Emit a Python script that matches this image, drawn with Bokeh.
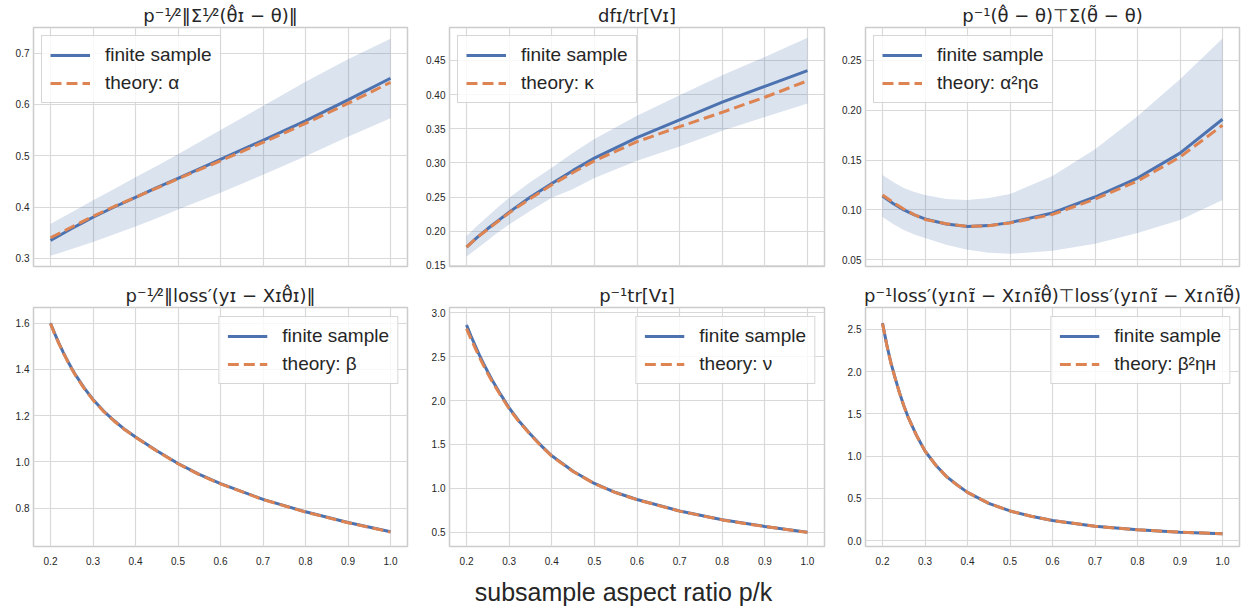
from bokeh.plotting import figure
from bokeh.layouts import column, row
from bokeh.models import Range1d, FixedTicker, PrintfTickFormatter, Legend, LegendItem, Label
from bokeh.embed import file_html
from bokeh.resources import INLINE

# ---------------- data ----------------
x_top = [0.2, 0.225, 0.25, 0.275, 0.3, 0.35, 0.4, 0.45, 0.5, 0.6, 0.7, 0.8, 0.9, 1.0]
x_bottom = [0.2, 0.21, 0.22, 0.23, 0.24, 0.25, 0.26, 0.28, 0.30, 0.325, 0.35, 0.375,
            0.40, 0.45, 0.50, 0.55, 0.60, 0.70, 0.80, 0.90, 1.00]

# panel 1
alpha_finite = [0.335, 0.3465, 0.358, 0.369, 0.380, 0.400, 0.419, 0.438, 0.456, 0.493, 0.530, 0.568, 0.609, 0.651]
alpha_theory = [0.340, 0.3505, 0.361, 0.3715, 0.382, 0.401, 0.419, 0.437, 0.455, 0.490, 0.526, 0.563, 0.602, 0.643]
alpha_hi = [0.367, 0.3785, 0.390, 0.4015, 0.413, 0.435, 0.458, 0.480, 0.503, 0.550, 0.597, 0.644, 0.688, 0.728]
alpha_lo = [0.305, 0.3115, 0.318, 0.325, 0.332, 0.347, 0.362, 0.378, 0.395, 0.428, 0.463, 0.499, 0.537, 0.573]

# panel 2
kappa_finite = [0.177, 0.191, 0.204, 0.216, 0.228, 0.250, 0.270, 0.289, 0.307, 0.337, 0.363, 0.389, 0.412, 0.435]
kappa_theory = [0.177, 0.191, 0.203, 0.215, 0.227, 0.248, 0.268, 0.286, 0.303, 0.331, 0.353, 0.374, 0.396, 0.420]
kappa_hi = [0.193, 0.208, 0.222, 0.236, 0.249, 0.272, 0.293, 0.315, 0.335, 0.369, 0.399, 0.428, 0.455, 0.483]
kappa_lo = [0.163, 0.175, 0.187, 0.199, 0.210, 0.230, 0.249, 0.262, 0.278, 0.303, 0.324, 0.347, 0.367, 0.387]

# panel 3
etag_finite = [0.114, 0.1065, 0.100, 0.095, 0.091, 0.086, 0.0835, 0.0843, 0.0873, 0.0970, 0.113, 0.132, 0.157, 0.191]
etag_theory = [0.115, 0.1075, 0.101, 0.0952, 0.0905, 0.0862, 0.0835, 0.0842, 0.0870, 0.0955, 0.111, 0.129, 0.153, 0.185]
etag_hi = [0.135, 0.128, 0.122, 0.118, 0.115, 0.111, 0.110, 0.112, 0.116, 0.134, 0.161, 0.194, 0.231, 0.272]
etag_lo = [0.093, 0.086, 0.080, 0.0755, 0.072, 0.065, 0.060, 0.057, 0.056, 0.059, 0.066, 0.077, 0.090, 0.110]

# panel 4
beta_finite = [1.600, 1.555, 1.513, 1.474, 1.438, 1.404, 1.373, 1.318, 1.270, 1.220, 1.178,
               1.140, 1.108, 1.048, 0.993, 0.946, 0.906, 0.838, 0.784, 0.738, 0.698]
beta_theory = [1.598, 1.553, 1.511, 1.472, 1.436, 1.402, 1.371, 1.316, 1.268, 1.218, 1.176,
               1.139, 1.107, 1.047, 0.992, 0.945, 0.905, 0.837, 0.783, 0.737, 0.697]
beta_hi = [1.612, 1.566, 1.523, 1.484, 1.447, 1.413, 1.381, 1.325, 1.277, 1.226, 1.184,
           1.146, 1.113, 1.053, 0.998, 0.951, 0.911, 0.843, 0.789, 0.743, 0.703]
beta_lo = [1.588, 1.544, 1.503, 1.464, 1.429, 1.395, 1.365, 1.311, 1.263, 1.214, 1.172,
           1.134, 1.103, 1.043, 0.988, 0.941, 0.901, 0.833, 0.779, 0.733, 0.693]

# panel 5
nu_finite = [2.860, 2.740, 2.630, 2.520, 2.420, 2.325, 2.235, 2.070, 1.915, 1.755, 1.615,
             1.487, 1.370, 1.195, 1.055, 0.952, 0.872, 0.742, 0.642, 0.566, 0.500]
nu_theory = [2.820, 2.705, 2.600, 2.495, 2.398, 2.305, 2.218, 2.057, 1.905, 1.748, 1.609,
             1.482, 1.366, 1.192, 1.052, 0.950, 0.870, 0.740, 0.640, 0.564, 0.498]
nu_hi = [2.900, 2.775, 2.662, 2.548, 2.446, 2.349, 2.258, 2.090, 1.932, 1.770, 1.628,
         1.498, 1.380, 1.203, 1.062, 0.958, 0.877, 0.746, 0.646, 0.570, 0.504]
nu_lo = [2.820, 2.705, 2.598, 2.492, 2.394, 2.301, 2.212, 2.050, 1.898, 1.740, 1.602,
         1.476, 1.360, 1.187, 1.048, 0.946, 0.867, 0.738, 0.638, 0.562, 0.496]

# panel 6
etah_finite = [2.575, 2.320, 2.100, 1.920, 1.750, 1.600, 1.465, 1.245, 1.060, 0.895, 0.760,
               0.660, 0.570, 0.440, 0.350, 0.287, 0.237, 0.168, 0.126, 0.099, 0.080]
etah_theory = [2.570, 2.316, 2.097, 1.917, 1.748, 1.598, 1.463, 1.244, 1.059, 0.894, 0.759,
               0.659, 0.570, 0.440, 0.350, 0.287, 0.237, 0.168, 0.126, 0.099, 0.080]
etah_hi = [2.595, 2.338, 2.116, 1.934, 1.763, 1.611, 1.475, 1.253, 1.067, 0.901, 0.765,
           0.665, 0.574, 0.444, 0.354, 0.290, 0.240, 0.171, 0.129, 0.102, 0.083]
etah_lo = [2.555, 2.302, 2.084, 1.906, 1.737, 1.589, 1.455, 1.237, 1.053, 0.889, 0.755,
           0.655, 0.566, 0.436, 0.346, 0.284, 0.234, 0.165, 0.123, 0.096, 0.077]

x_ticks = [0.2, 0.3, 0.4, 0.5, 0.6, 0.7, 0.8, 0.9, 1.0]
y_ticks = [
    [0.3, 0.4, 0.5, 0.6, 0.7],
    [0.15, 0.20, 0.25, 0.30, 0.35, 0.40, 0.45],
    [0.05, 0.10, 0.15, 0.20, 0.25],
    [0.8, 1.0, 1.2, 1.4, 1.6],
    [0.5, 1.0, 1.5, 2.0, 2.5, 3.0],
    [0.0, 0.5, 1.0, 1.5, 2.0, 2.5],
]
y_formats = ["%.1f", "%.2f", "%.2f", "%.1f", "%.1f", "%.1f"]

titles = [
    "p\u207b\u00b9\u2044\u00b2\u2016\u03a3\u00b9\u2044\u00b2(\u03b8\u0302\u026a \u2212 \u03b8)\u2016",
    "df\u026a/tr[V\u026a]",
    "p\u207b\u00b9(\u03b8\u0302 \u2212 \u03b8)\u22a4\u03a3(\u03b8\u0303 \u2212 \u03b8)",
    "p\u207b\u00b9\u2044\u00b2\u2016loss\u2032(y\u026a \u2212 X\u026a\u03b8\u0302\u026a)\u2016",
    "p\u207b\u00b9tr[V\u026a]",
    "p\u207b\u00b9loss\u2032(y\u026a\u2229\u026a\u0303 \u2212 X\u026a\u2229\u026a\u0303\u03b8\u0302)\u22a4loss\u2032(y\u026a\u2229\u026a\u0303 \u2212 X\u026a\u2229\u026a\u0303\u03b8\u0303)",
]
finite_label = "finite sample"
theory_labels = ["theory: \u03b1", "theory: \u03ba", "theory: \u03b1\u00b2\u03b7\u0262",
                 "theory: \u03b2", "theory: \u03bd", "theory: \u03b2\u00b2\u03b7\u029c"]
x_label = "subsample aspect ratio p/k"

# ---------------- style ----------------
BLUE = "#4c72b0"
ORANGE = "#dd8452"
GRID = "#d9d9d9"
EDGE = "#cccccc"
TXT = "#262626"
SANS = "Liberation Sans"

y_ranges = [(0.284, 0.750), (0.1485, 0.498), (0.0433, 0.283),
            (0.634, 1.668), (0.337, 3.06), (-0.071, 2.76)]

col_geom = [(33, 374, 12), (30, 375, 11), (30, 374, 10)]  # left border, frame, right border
row_geom = [(27, 239, 14), (27, 239, 24)]                 # top border, frame, bottom border


def panel(i, x, fin, th, lo, hi):
    r, c = divmod(i, 3)
    lb, fw, rb = col_geom[c]
    tb, fh, bb = row_geom[r]
    p = figure(frame_width=fw, frame_height=fh,
               x_range=Range1d(0.16, 1.04), y_range=Range1d(*y_ranges[i]),
               x_axis_location=None if r == 0 else "below",
               output_backend="svg", toolbar_location=None,
               min_border_left=lb, min_border_right=rb,
               min_border_top=tb, min_border_bottom=bb)
    p.background_fill_color = "white"
    p.border_fill_color = "white"
    p.outline_line_color = EDGE
    p.outline_line_width = 1.5

    p.varea(x=x, y1=lo, y2=hi, fill_color=BLUE, fill_alpha=0.2)
    r_fin = p.line(x, fin, line_color=BLUE, line_width=3)
    r_th = p.line(x, th, line_color=ORANGE, line_width=3, line_dash="11 5")

    p.xgrid.ticker = FixedTicker(ticks=x_ticks)
    p.ygrid.ticker = FixedTicker(ticks=y_ticks[i])
    p.yaxis.ticker = FixedTicker(ticks=y_ticks[i])
    p.yaxis.formatter = PrintfTickFormatter(format=y_formats[i])
    axes = list(p.yaxis)
    if r == 1:
        p.xaxis.ticker = FixedTicker(ticks=x_ticks)
        p.xaxis.formatter = PrintfTickFormatter(format="%.1f")
        p.xaxis.major_label_standoff = 10
        axes += list(p.xaxis)
    for ax in axes:
        ax.axis_line_color = None
        ax.major_tick_line_color = None
        ax.minor_tick_line_color = None
        ax.major_tick_out = 0
        ax.major_tick_in = 0
        ax.major_label_text_font = SANS
        ax.major_label_text_font_size = "10px"
        ax.major_label_text_color = TXT
    p.yaxis.major_label_standoff = 4
    p.grid.grid_line_color = GRID
    p.grid.grid_line_width = 1.2

    p.title.text = titles[i]
    p.title.align = "center"
    p.title.text_font = "DejaVu Sans"
    p.title.text_font_size = "18px"
    p.title.text_font_style = "normal"
    p.title.text_color = TXT
    p.title.standoff = 3

    leg = Legend(items=[LegendItem(label=finite_label, renderers=[r_fin]),
                        LegendItem(label=theory_labels[i], renderers=[r_th])],
                 location="top_left" if r == 0 else "top_right")
    leg.margin = 8 if r == 0 else 9
    leg.padding = 8
    leg.spacing = 6
    leg.glyph_width = 40
    leg.glyph_height = 20
    leg.label_height = 20
    leg.label_standoff = 15
    leg.label_text_font = SANS
    leg.label_text_font_size = "19px"
    leg.label_text_color = TXT
    leg.background_fill_color = "white"
    leg.background_fill_alpha = 0.8
    leg.border_line_color = EDGE
    leg.border_line_alpha = 0.8
    leg.border_line_width = 1
    p.add_layout(leg)
    return p


data = [
    (x_top, alpha_finite, alpha_theory, alpha_lo, alpha_hi),
    (x_top, kappa_finite, kappa_theory, kappa_lo, kappa_hi),
    (x_top, etag_finite, etag_theory, etag_lo, etag_hi),
    (x_bottom, beta_finite, beta_theory, beta_lo, beta_hi),
    (x_bottom, nu_finite, nu_theory, nu_lo, nu_hi),
    (x_bottom, etah_finite, etah_theory, etah_lo, etah_hi),
]
panels = [panel(i, *d) for i, d in enumerate(data)]

# strip carrying the shared x label
SW, SH = 1249, 41
strip = figure(width=SW, height=SH, x_range=Range1d(0, SW), y_range=Range1d(0, SH),
               output_backend="svg", toolbar_location=None,
               min_border_left=0, min_border_right=0, min_border_top=0, min_border_bottom=0)
strip.axis.visible = False
strip.grid.visible = False
strip.outline_line_color = None
strip.add_layout(Label(x=623, y=SH - 21, text=x_label, text_align="center", text_baseline="middle",
                       text_font=SANS, text_font_size="25px", text_color=TXT))

layout = column(row(*panels[:3]), row(*panels[3:]), strip)
open("out.html", "w").write(file_html(layout, INLINE))
